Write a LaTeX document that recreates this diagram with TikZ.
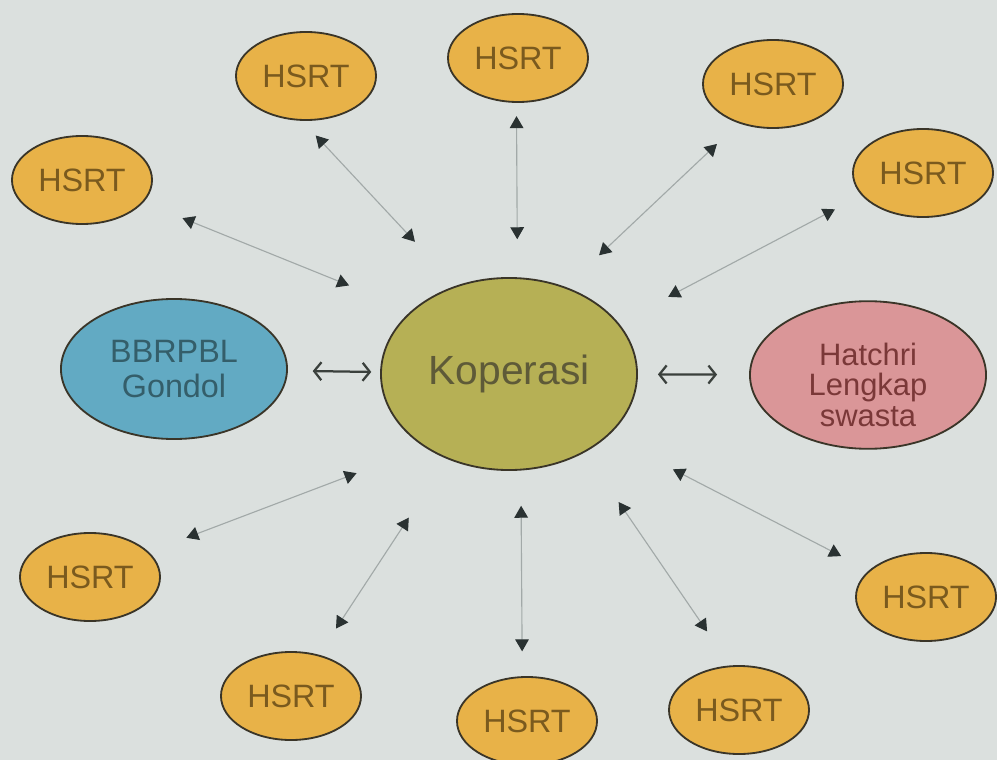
\documentclass[tikz,border=0pt]{standalone}
\usepackage{fontspec}
\setmainfont{Liberation Sans}
\usetikzlibrary{shapes.geometric,arrows.meta}
\definecolor{bgcol}{HTML}{DBE0DE}
\definecolor{edgecol}{HTML}{3A3528}
\definecolor{hsrtfill}{HTML}{E8B248}
\definecolor{hsrttext}{HTML}{7A5A1E}
\definecolor{kopfill}{HTML}{B6B055}
\definecolor{koptext}{HTML}{5E5A38}
\definecolor{bbfill}{HTML}{62AAC3}
\definecolor{bbtext}{HTML}{345E6A}
\definecolor{hatfill}{HTML}{DA9698}
\definecolor{hattext}{HTML}{7A3838}
\definecolor{linkgray}{HTML}{A2A9A8}
\definecolor{tipdark}{HTML}{2A3232}
\definecolor{sidedark}{HTML}{3A403C}
\begin{document}
\begin{tikzpicture}[x=0.025cm,y=-0.025cm,
  blob/.style={ellipse, draw=edgecol, line width=1.3pt, inner sep=0pt, align=center},
  hsrt/.style={blob, fill=hsrtfill, text=hsrttext, minimum width=3.5cm, minimum height=2.2cm,
    font=\fontsize{23}{23}\selectfont},
  hub/.style={blob, fill=kopfill, text=koptext, minimum width=6.4cm, minimum height=4.8cm,
    font=\fontsize{29}{29}\selectfont},
  bbnode/.style={blob, fill=bbfill, text=bbtext, minimum width=5.65cm, minimum height=3.5cm,
    font=\fontsize{23}{25}\selectfont},
  hatnode/.style={blob, fill=hatfill, text=hattext, minimum width=5.9cm, minimum height=3.6cm,
    font=\fontsize{22}{22}\selectfont},
  link/.style={draw=linkgray, line width=0.8pt,
    >={Triangle[length=0.3cm,width=0.34cm,color=tipdark]}, <->},
  sidelink/.style={draw=sidedark, line width=1.6pt,
    >={Straight Barb[length=0.18cm,width=0.45cm]}, <->}
]
\fill[bgcol] (0,0) rectangle (997,760);
\clip (0,0) rectangle (997,760);

\node[hub] (k) at (509,374) {Koperasi};
\node[bbnode] (b) at (174,369) {BBRPBL\\Gondol};
\node[hatnode] (h) at (868,375) {\rule{0pt}{30pt}Hatchri\\Lengkap\\swasta};

\node[hsrt] (h1) at (82,180) {HSRT};
\node[hsrt] (h2) at (306,76) {HSRT};
\node[hsrt] (h3) at (518,58) {HSRT};
\node[hsrt] (h4) at (773,84) {HSRT};
\node[hsrt] (h5) at (923,173) {HSRT};
\node[hsrt] (h6) at (90,577) {HSRT};
\node[hsrt] (h7) at (291,696) {HSRT};
\node[hsrt] (h8) at (527,721) {HSRT};
\node[hsrt] (h9) at (739,710) {HSRT};
\node[hsrt] (h10) at (926,597) {HSRT};

\draw[link, shorten <=1.68cm, shorten >=1.05cm] (k.147) -- (h1.-20.8);
\draw[link, shorten <=1.5cm, shorten >=0.5cm] (k.121.5) -- (h2.265.5);
\draw[link, shorten <=0.95cm, shorten >=0.33cm] (k.85.8) -- (h3.268.4);
\draw[link, shorten <=1.15cm, shorten >=0.75cm] (k.57.9) -- (h4.229.4);
\draw[link, shorten <=1.4cm, shorten >=0.75cm] (k.25.3) -- (h5.200.7);
\draw[link, shorten <=1.82cm, shorten >=1.0cm] (k.221.2) -- (h6.23.8);
\draw[link, shorten <=1.75cm, shorten >=0.78cm] (k.234.6) -- (h7.56.2);
\draw[link, shorten <=0.88cm, shorten >=0.62cm] (k.-83.4) -- (h8.96.5);
\draw[link, shorten <=1.5cm, shorten >=1.03cm] (k.-46.7) -- (h9.101.2);
\draw[link, shorten <=1.82cm, shorten >=0.78cm] (k.-32.6) -- (h10.155.3);

\draw[sidelink, shorten <=0.62cm, shorten >=0.22cm] (b) -- (k);
\draw[sidelink, shorten <=0.5cm, shorten >=0.8cm] (k) -- (h);
\end{tikzpicture}
\end{document}
